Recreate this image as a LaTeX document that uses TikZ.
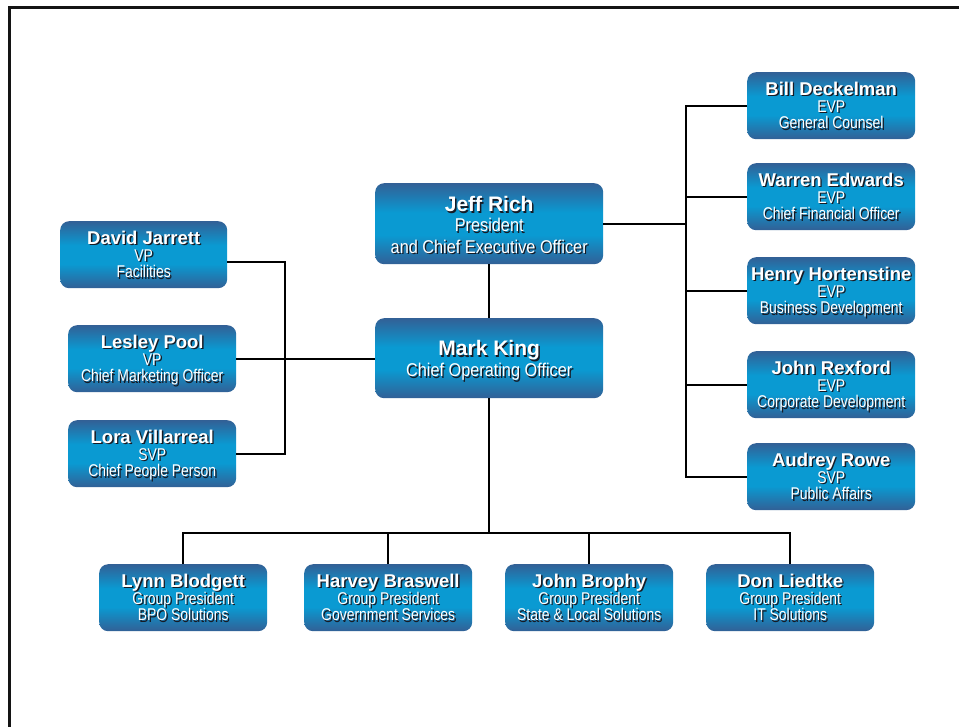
\documentclass[tikz,border=0pt]{standalone}
\usepackage{fontspec}
\setmainfont{Liberation Sans}
\newfontfamily\titlefont[FakeStretch=0.82]{Liberation Sans}
\newfontfamily\toptitlefont[FakeStretch=0.88]{Liberation Sans}
\usetikzlibrary{calc}

\definecolor{cardedge}{RGB}{50,96,150}
\definecolor{cardglow}{RGB}{10,154,210}
\definecolor{textshade}{RGB}{22,26,36}
\definecolor{framecol}{RGB}{20,20,20}

% dark band at top and bottom, bright band through the middle
\pgfdeclareverticalshading{cardfill}{100bp}{color(0bp)=(cardedge); color(25bp)=(cardedge); color(43bp)=(cardglow); color(57bp)=(cardglow); color(75bp)=(cardedge); color(100bp)=(cardedge)}

\tikzset{
  card/.style={rounded corners=9pt, shading=cardfill, draw=none, inner sep=0pt, anchor=north west},
  wire/.style={line width=1.8pt, black},
  lbl/.style={anchor=base, inner sep=0pt, text=white},
  lblshade/.style={anchor=base, inner sep=0pt, text=textshade},
}

% one text line with a drop shadow: card, suffix, baseline offset below card top, text
\newcommand\cardline[4]{%
  \node[lblshade] (#1-#2-sh) at ($(#1.north)+(1.4,#3+1.4)$) {#4};
  \node[lbl] (#1-#2) at ($(#1.north)+(0,#3)$) {#4};
}

% three-line card: id, left, top, width, name, title, unit
\newcommand\personcard[7]{%
  \node[card, minimum width=#4pt, minimum height=67pt] (#1) at (#2,#3) {};
  \cardline{#1}{a}{23.5}{\fontsize{18.5}{20}\selectfont\bfseries #5}
  \cardline{#1}{b}{40}{\fontsize{17}{18}\titlefont #6}
  \cardline{#1}{c}{56.8}{\fontsize{17}{18}\titlefont #7}
}

\begin{document}
\begin{tikzpicture}[x=1pt, y=-1pt]
\clip (0,0) rectangle (959,726);
\fill[white] (0,0) rectangle (959,726);

% page frame
\draw[line width=3pt, framecol] (9.5,7.5) rectangle (1000,780);

% executive cards
\node[card, minimum width=228pt, minimum height=81pt] (jeff) at (375,183) {};
\cardline{jeff}{a}{28.7}{\fontsize{21}{23}\selectfont\bfseries Jeff Rich}
\cardline{jeff}{b}{48.7}{\fontsize{18.5}{20}\toptitlefont President}
\cardline{jeff}{c}{70.3}{\fontsize{18.5}{20}\toptitlefont and Chief Executive Officer}

\node[card, minimum width=228pt, minimum height=80pt] (mark) at (375,318) {};
\cardline{mark}{a}{37.7}{\fontsize{21}{23}\selectfont\bfseries Mark King}
\cardline{mark}{b}{58.7}{\fontsize{18.5}{20}\toptitlefont Chief Operating Officer}

% staff reporting to the CEO
\personcard{bill}{747}{72}{168}{Bill Deckelman}{EVP}{General Counsel}
\personcard{warren}{747}{163}{168}{Warren Edwards}{EVP}{Chief Financial Officer}
\personcard{henry}{747}{257}{168}{Henry Hortenstine}{EVP}{Business Development}
\personcard{rexford}{747}{351}{168}{John Rexford}{EVP}{Corporate Development}
\personcard{audrey}{747}{443}{168}{Audrey Rowe}{SVP}{Public Affairs}

% staff reporting to the COO
\personcard{jarrett}{60}{221}{167}{David Jarrett}{VP}{Facilities}
\personcard{pool}{68}{325}{168}{Lesley Pool}{VP}{Chief Marketing Officer}
\personcard{villarreal}{68}{420}{168}{Lora Villarreal}{SVP}{Chief People Person}

% group presidents
\personcard{blodgett}{99}{564}{168}{Lynn Blodgett}{Group President}{BPO Solutions}
\personcard{braswell}{304}{564}{168}{Harvey Braswell}{Group President}{Government Services}
\personcard{brophy}{505}{564}{168}{John Brophy}{Group President}{State \& Local Solutions}
\personcard{liedtke}{706}{564}{168}{Don Liedtke}{Group President}{IT Solutions}

% connector buses
\coordinate (rbus) at (686,0);
\coordinate (lbus) at (285,0);
\coordinate (bbus) at (0,533);
\coordinate (jarrettport) at ([yshift=-7pt]jarrett.east);

\draw[wire] (jeff.south) -- (mark.north);

\draw[wire] (jeff.east) -- (jeff.east -| rbus);
\draw[wire] (bill.west) -- (bill.west -| rbus) -- (audrey.west -| rbus) -- (audrey.west);
\draw[wire] (warren.west) -- (warren.west -| rbus);
\draw[wire] (henry.west) -- (henry.west -| rbus);
\draw[wire] (rexford.west) -- (rexford.west -| rbus);

\draw[wire] (jarrettport) -- (jarrettport -| lbus) -- (villarreal.east -| lbus) -- (villarreal.east);
\draw[wire] (pool.east) -- (pool.east -| mark.west);

\draw[wire] (mark.south) -- (mark.south |- bbus);
\draw[wire] (blodgett.north) -- (blodgett.north |- bbus) -- (liedtke.north |- bbus) -- (liedtke.north);
\draw[wire] (braswell.north) -- (braswell.north |- bbus);
\draw[wire] (brophy.north) -- (brophy.north |- bbus);
\end{tikzpicture}
\end{document}
